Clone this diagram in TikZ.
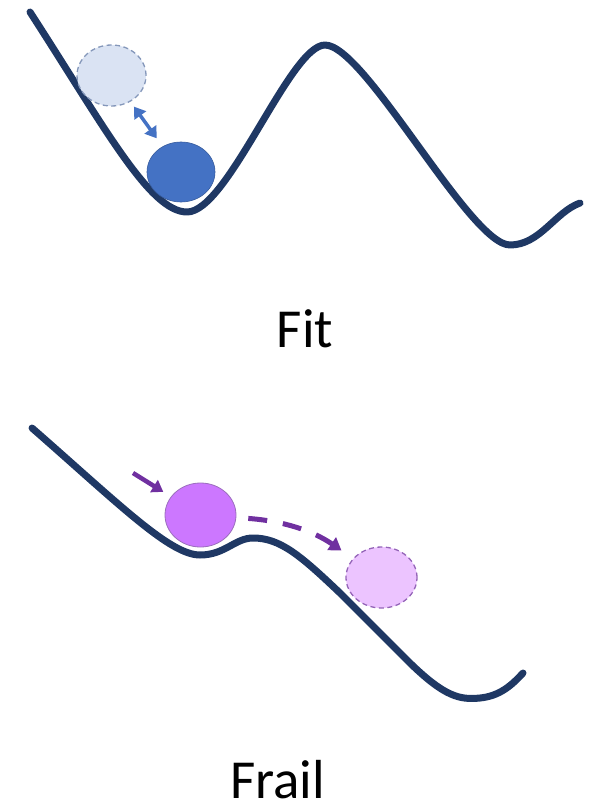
\documentclass[tikz,border=0pt]{standalone}
\usepackage{fontspec}
\setmainfont{Carlito}
\usetikzlibrary{positioning, arrows.meta, shapes.geometric}
\definecolor{slopenavy}{RGB}{31, 56, 100}
\definecolor{fitblue}{RGB}{68, 114, 196}
\definecolor{fitghost}{RGB}{218, 227, 243}
\definecolor{fitghostline}{RGB}{132, 151, 186}
\definecolor{frailpurple}{RGB}{204, 119, 255}
\definecolor{frailghost}{RGB}{236, 196, 255}
\definecolor{frailline}{RGB}{112, 48, 160}

\begin{document}
\begin{tikzpicture}[x=1pt, y=-1pt,
        slope/.style={draw=slopenavy, line width=7pt, line cap=round,
              line join=round},
        ball/.style={ellipse, inner sep=0pt, minimum width=69pt,
              minimum height=61pt},
        ghostline/.style={dash pattern=on 5pt off 3.5pt, line width=1.3pt},
        caption/.style={font=\fontsize{55}{60}\selectfont, anchor=base,
              inner sep=0pt}]
        \useasboundingbox (0, 0) rectangle (592, 808);
        \draw[slope] (30, 12) .. controls (105, 128) and (150, 212) .. (187, 212)
            .. controls (228, 212) and (290, 45) .. (325, 45)
            .. controls (365, 45) and (470, 245) .. (510, 245)
            .. controls (540, 245) and (555, 212) .. (580, 203);
        \node[ball, fill=fitghost, draw=fitghostline, ghostline]
            (fitghost) at (111.5, 75.5) {};
        \node[ball, fill=fitblue, draw=fitblue!80!black, line width=0.6pt,
              minimum height=60pt, minimum width=68pt]
            (fitball) at (181, 172) {};
        \draw[fitblue, line width=3.5pt,
              {Triangle[length=11pt, width=14pt]}-{Triangle[length=11pt, width=14pt]},
              shorten <=6pt, shorten >=10pt] (fitghost) -- (fitball);
        \node[caption] (fitlabel) at (305, 347) {Fit};
        \draw[slope] (32, 428) .. controls (120, 505) and (170, 555) .. (200, 555)
            .. controls (225, 555) and (235, 538) .. (253, 538)
            .. controls (280, 538) and (300, 555) .. (340, 593)
            -- (410, 663)
            .. controls (445, 697) and (460, 700) .. (480, 698)
            .. controls (500, 696) and (512, 685) .. (523, 673);
        \node[ball, fill=frailpurple, draw=frailline!70, line width=0.8pt,
              minimum width=71pt, minimum height=64pt]
            (frailball) at (200.5, 515) {};
        \node[ball, fill=frailghost, draw=frailline!75, ghostline,
              minimum width=71pt]
            (frailghost) at (381.5, 577.5) {};
        \coordinate (frailstart) at (133, 473);
        \draw[frailline, line width=4.5pt,
              -{Triangle[length=11pt, width=14pt]}, shorten >=9pt]
            (frailstart) -- (frailball);
        \draw[frailline, line width=5pt, dash pattern=on 19pt off 16pt,
              -{Triangle[length=12pt, width=15pt]},
              shorten <=12pt, shorten >=14pt]
            (frailball) to[bend left=15] (frailghost);
        \node[caption] (fraillabel) at (277.5, 798) {Frail};
    \end{tikzpicture}
\end{document}
